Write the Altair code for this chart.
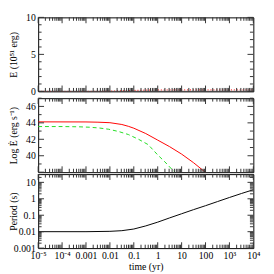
import altair as alt
import pandas as pd

FONT = "Liberation Serif"
W, H = 221, 76

# ---- x axis (time, yr) ----
x_tick_labels = ["10⁻⁵", "10⁻⁴", "0.001", "0.01", "0.1", "1", "10", "100", "10³", "10⁴"]
x_major = [1e-5, 1e-4, 1e-3, 1e-2, 1e-1, 1.0, 10.0, 100.0, 1e3, 1e4]

# ---- panel 1 : energy (1e51 erg) ----
e_time = [1e-5, 1e-3, 0.003, 0.01, 0.03, 0.1, 0.3, 1, 10, 100, 1e3, 1e4]
e_total = [0, 0, 0, 0, 0, 0, 0, 0, 0, 0, 0, 0]
e_inj = [0.0, 0.002, 0.01, 0.03, 0.07, 0.13, 0.17, 0.19, 0.2, 0.2, 0.2, 0.2]

# ---- panel 2 : log luminosity ----
lr_time = [1e-5, 1e-3, 0.00316, 0.01, 0.0316, 0.059, 0.1, 0.15, 0.316, 1, 3.16, 10, 31.6, 80, 100]
lr_val = [44.12, 44.11, 44.08, 44.02, 43.8, 43.58, 43.35, 43.12, 42.7, 41.9, 41.1, 40.2, 39.15, 38.2, 38.0]
lg_time = [1e-5, 1e-4, 0.0005, 0.00135, 0.00347, 0.0089, 0.0229, 0.059, 0.158, 0.4, 1, 2.0, 4.07, 5.25]
lg_val = [43.55, 43.55, 43.52, 43.47, 43.38, 43.22, 42.95, 42.58, 42.0, 41.35, 40.1, 39.25, 38.3, 38.0]

# ---- panel 3 : period (s) ----
p_time = [1e-5, 1e-3, 0.01, 0.0316, 0.1, 0.316, 1, 3.16, 10, 31.6, 100, 316, 1000, 3160, 10000]
p_val = [0.01, 0.01, 0.0105, 0.0115, 0.0145, 0.0224, 0.038, 0.069, 0.123, 0.219, 0.38, 0.676, 1.2, 2.09, 3.55]

x_minor = [m * 10.0 ** k for k in range(-5, 4) for m in range(2, 10)]
xscale = alt.Scale(type="log", domain=[1e-5, 1e4], nice=False)
label_expr = "[" + ",".join("'%s'" % s for s in x_tick_labels) + "][round(log(datum.value)/LN10)+5]"

MAJ, MIN = 6, 3.5
TICK_STYLE = dict(color="#333333", strokeWidth=1)


def tick_layers(yscale, ymaj, ymin):
    out = []
    for vals, ln in ((x_major, MAJ), (x_minor, MIN)):
        d = pd.DataFrame({"t": vals})
        x = alt.X("t:Q", scale=xscale, axis=None)
        base = alt.Chart(d).mark_rule(**TICK_STYLE)
        out.append(base.encode(x=x, y=alt.value(H), y2=alt.value(H - ln)))
        out.append(base.encode(x=x, y=alt.value(0), y2=alt.value(ln)))
    for vals, ln in ((ymaj, MAJ), (ymin, MIN)):
        d = pd.DataFrame({"v": vals})
        y = alt.Y("v:Q", scale=yscale, axis=None)
        base = alt.Chart(d).mark_rule(**TICK_STYLE)
        out.append(base.encode(y=y, x=alt.value(0), x2=alt.value(ln)))
        out.append(base.encode(y=y, x=alt.value(W), x2=alt.value(W - ln)))
    return out


def panel(main_layers, ticks):
    return alt.layer(*main_layers, *ticks).resolve_axis(
        x="independent", y="independent").properties(width=W, height=H)


ytitle = dict(titleX=-20)

# panel 1
df1 = pd.DataFrame({"t": e_time, "e": e_total, "e2": e_inj})
ys1 = alt.Scale(domain=[0, 10], nice=False, zero=False)
l1a = alt.Chart(df1).mark_line(color="black", strokeWidth=1, clip=True).encode(
    x=alt.X("t:Q", scale=xscale, axis=None),
    y=alt.Y("e:Q", scale=ys1, axis=alt.Axis(
        orient="left", values=[0, 5, 10], ticks=False, domain=False, grid=False,
        labelPadding=3, title="E (10⁵¹ erg)", **ytitle)))
l1b = alt.Chart(df1).mark_line(color="red", strokeWidth=1, strokeDash=[1, 2], clip=True).encode(
    x=alt.X("t:Q", scale=xscale, axis=None),
    y=alt.Y("e2:Q", scale=ys1, axis=None))
p1 = panel([l1a, l1b], tick_layers(ys1, [0, 5, 10], [1, 2, 3, 4, 6, 7, 8, 9]))

# panel 2
dfr = pd.DataFrame({"t": lr_time, "v": lr_val})
dfg = pd.DataFrame({"t": lg_time, "v": lg_val})
ys2 = alt.Scale(domain=[38, 47], nice=False, zero=False)
l2a = alt.Chart(dfr).mark_line(color="red", strokeWidth=1, clip=True).encode(
    x=alt.X("t:Q", scale=xscale, axis=None),
    y=alt.Y("v:Q", scale=ys2, axis=alt.Axis(
        orient="left", values=[40, 42, 44, 46], ticks=False, domain=False, grid=False,
        labelPadding=3, title="Log Ė (erg s⁻¹)", **ytitle)))
l2b = alt.Chart(dfg).mark_line(color="#22dd22", strokeWidth=1, strokeDash=[4, 3], clip=True).encode(
    x=alt.X("t:Q", scale=xscale, axis=None),
    y=alt.Y("v:Q", scale=ys2, axis=None))
p2 = panel([l2a, l2b], tick_layers(ys2, [38, 40, 42, 44, 46], [39, 41, 43, 45, 47]))

# panel 3
dfp = pd.DataFrame({"t": p_time, "p": p_val})
ys3 = alt.Scale(type="log", domain=[0.001, 31.6], nice=False)
y3_major = [0.001, 0.01, 0.1, 1, 10]
y3_minor = [m * 10.0 ** k for k in range(-3, 2) for m in range(2, 10) if m * 10.0 ** k <= 31.6]
l3 = alt.Chart(dfp).mark_line(color="black", strokeWidth=1, clip=True).encode(
    x=alt.X("t:Q", scale=xscale, axis=alt.Axis(
        orient="bottom", values=x_major, labelExpr=label_expr, ticks=False, domain=False,
        grid=False, labelPadding=3, title="time (yr)", titlePadding=1, labelFlush=False)),
    y=alt.Y("p:Q", scale=ys3, axis=alt.Axis(
        orient="left", values=y3_major, format="~g", ticks=False, domain=False, grid=False,
        labelPadding=3, title="Period (s)", **ytitle)))
p3 = panel([l3], tick_layers(ys3, y3_major, y3_minor))

chart = alt.vconcat(p1, p2, p3, spacing=0).properties(
    padding={"left": 0, "top": 0, "right": 5, "bottom": 0}
).configure_view(stroke="black", strokeWidth=1).configure_axis(
    labelFont=FONT, labelFontSize=10, labelColor="black",
    titleFont=FONT, titleFontSize=10, titleFontWeight="normal", titleColor="black",
    labelOverlap=False,
)

chart.save("out.html", embed_options={"renderer": "svg", "actions": False})
